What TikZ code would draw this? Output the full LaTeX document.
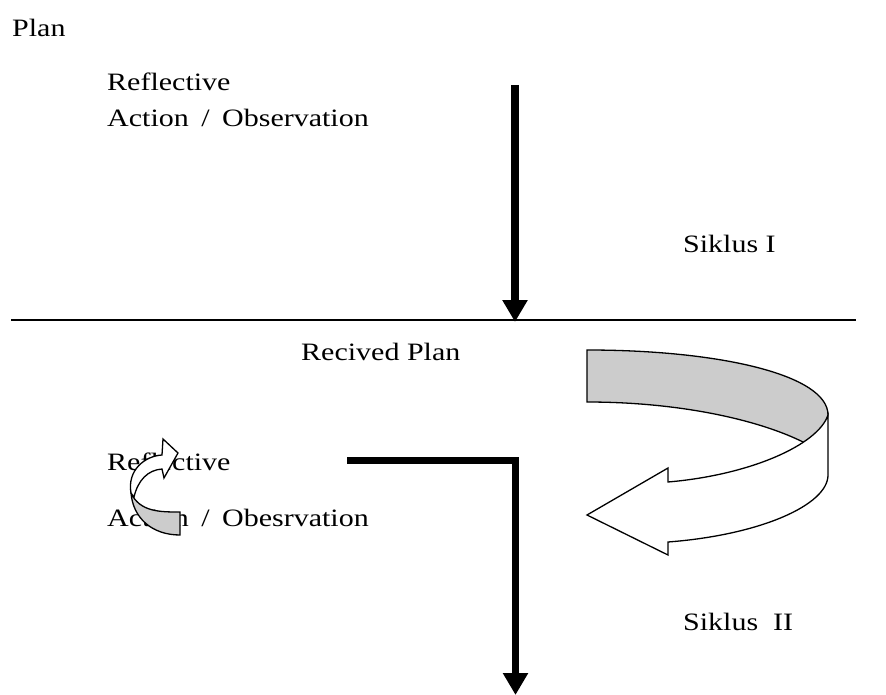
\documentclass[tikz,border=0pt]{standalone}
\usepackage{fontspec}
\setmainfont{Liberation Serif}[FakeStretch=1.2]
\usepackage{tikz}
\usetikzlibrary{arrows.meta, positioning, calc}

\newcommand{\slashsep}{\kern5pt/\kern5pt}

\begin{document}
\begin{tikzpicture}[x=1pt, y=-1pt,
    txt/.style={anchor=base west, inner sep=0pt, font=\fontsize{25}{30}\selectfont},
    bigarrow/.style={line width=7.5pt, -{Triangle[width=24pt, length=22pt]}},
    ribbon/.style={draw=black, line width=1.3pt, line join=miter}]

    \useasboundingbox (0,0) rectangle (886,695);

    % Nodes
    \node[txt] (plan) at (12,37) {Plan};
    \node[txt] (refl1) at (107,91) {Reflective};
    \node[txt] (act1) at (107,127) {Action \slashsep{} Observation};
    \node[txt] (sik1) at (683,252) {Siklus I};
    \node[txt] (rplan) at (301,360) {Recived Plan};
    \node[txt] (refl2) at (107,470) {Reflective};
    \node[txt] (act2) at (107,526) {Action \slashsep{} Obesrvation};
    \node[txt] (sik2) at (683,630) {Siklus\ \ II};

    % Coordinates
    \coordinate (lineL) at (11,320);
    \coordinate (lineR) at (856,320);
    \coordinate (topA) at (515,85);
    \coordinate (tipA) at (515,322);
    \coordinate (barL) at (347,460.5);
    \coordinate (corner) at (515.5,460.5);
    \coordinate (tipB) at (515.5,695);

    % Lines and arrows
    \draw[line width=1.5pt] (lineL) -- (lineR);
    \draw[bigarrow] (topA) -- (tipA);
    \draw[bigarrow] (barL) -- (corner) -- (tipB);

    % Big curved arrow
    \filldraw[ribbon, fill=black!20] (587,350) .. controls (720,350) and (828,375) .. (828,415)
        .. controls (826,428) and (815,437) .. (805,443)
        .. controls (760,420) and (680,402) .. (587,402) -- cycle;
    \filldraw[ribbon, fill=white] (828,415) .. controls (818,445) and (750,475) .. (668,482)
        -- (668,468) -- (587,515) -- (668,555) -- (668,542)
        .. controls (760,535) and (828,505) .. (828,475) -- cycle;

    % Small curved arrow
    \filldraw[ribbon, fill=black!20] (131,493) .. controls (140,512) and (160,512) .. (180,512)
        -- (180,535) .. controls (152,535) and (133,518) .. (131,493) -- cycle;
    \filldraw[ribbon, fill=white] (131,493) .. controls (127,470) and (145,456) .. (162,455)
        -- (163,439) -- (178,453) -- (164,478) -- (162,469)
        .. controls (148,470) and (138,480) .. (134,497) -- cycle;

\end{tikzpicture}
\end{document}
